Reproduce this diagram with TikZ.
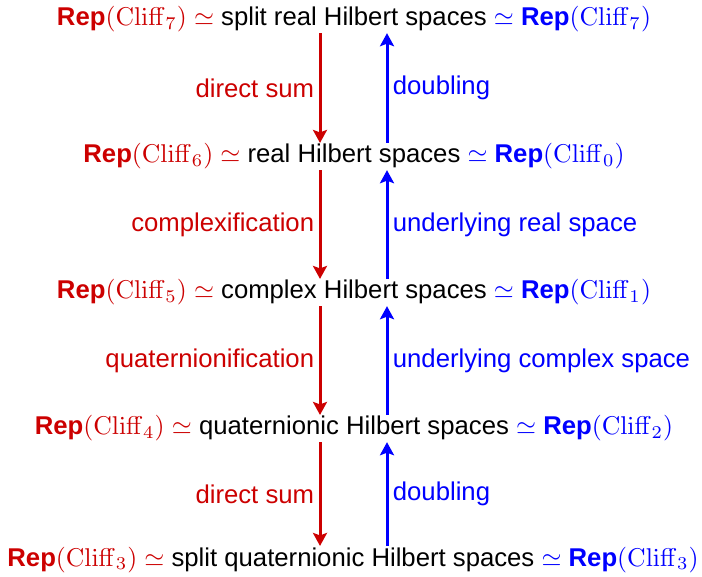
\documentclass[tikz,border=0pt]{standalone}
\usepackage[no-math]{fontspec}
\setmainfont{Liberation Sans}
\usetikzlibrary{arrows.meta}
\definecolor{cred}{RGB}{204,0,0}
\definecolor{cblue}{RGB}{0,0,255}
\newcommand{\rp}[1]{\textbf{Rep}$(\mathrm{Cliff}_{#1})$}
\newcommand{\lhs}[1]{{\color{cred}\rp{#1} $\simeq$}}
\newcommand{\rhs}[1]{{\color{cblue}$\simeq$ \rp{#1}}}
\begin{document}
\begin{tikzpicture}[x=1pt,y=-1pt,
  every node/.style={font=\fontsize{10}{12}\selectfont, scale=2.57, inner sep=0pt, outer sep=0.3pt},
  rowtext/.style={anchor=base},
  downarr/.style={draw=cred, line width=3pt, -{Stealth[length=13pt,width=14pt,inset=2.5pt]}},
  uparr/.style={draw=cblue, line width=3pt, -{Stealth[length=13pt,width=14pt,inset=2.5pt]}},
  redlab/.style={text=cred, anchor=east, xshift=-2pt},
  bluelab/.style={text=cblue, anchor=west, xshift=2pt}]
\useasboundingbox (0,0) rectangle (702,577);
\coordinate (xr) at (320,0);
\coordinate (xb) at (387,0);
\node[rowtext] (r1) at (354,26) {\lhs{7} split real Hilbert spaces \rhs{7}};
\node[rowtext] (r2) at (354,163) {\lhs{6} real Hilbert spaces \rhs{0}};
\node[rowtext] (r3) at (354,299) {\lhs{5} complex Hilbert spaces \rhs{1}};
\node[rowtext] (r4) at (354,435) {\lhs{4} quaternionic Hilbert spaces \rhs{2}};
\node[rowtext] (r5) at (353,566) {\lhs{3} split quaternionic Hilbert spaces \rhs{3}};

\draw[downarr] (r1.south -| xr) -- node[redlab] (l1) {direct sum} (r2.north -| xr);
\draw[downarr] (r2.south -| xr) -- node[redlab] (l2) {complexification} (r3.north -| xr);
\draw[downarr] (r3.south -| xr) -- node[redlab] (l3) {quaternionification} (r4.north -| xr);
\draw[downarr] (r4.south -| xr) -- node[redlab] (l4) {direct sum} (r5.north -| xr);

\draw[uparr] (r2.north -| xb) -- node[bluelab] (m1) {doubling} (r1.south -| xb);
\draw[uparr] (r3.north -| xb) -- node[bluelab] (m2) {underlying real space} (r2.south -| xb);
\draw[uparr] (r4.north -| xb) -- node[bluelab] (m3) {underlying complex space} (r3.south -| xb);
\draw[uparr] (r5.north -| xb) -- node[bluelab] (m4) {doubling} (r4.south -| xb);
\end{tikzpicture}
\end{document}
